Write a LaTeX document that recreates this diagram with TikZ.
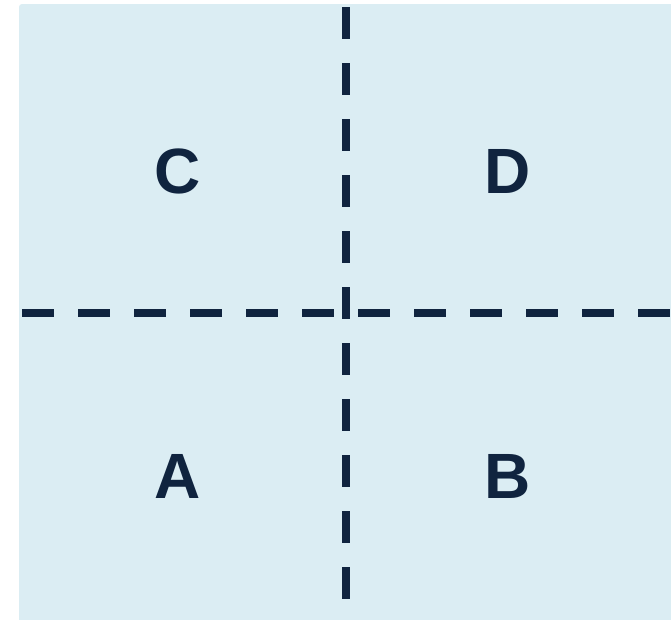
\documentclass[tikz,border=0pt]{standalone}
\usepackage{fontspec}
\setmainfont{Liberation Sans}
\usepackage{xcolor}
\usepackage{tikz}
\definecolor{paneblue}{HTML}{DBEDF3}
\definecolor{inkblue}{HTML}{10243F}

\begin{document}
\begin{tikzpicture}[x=1pt,y=-1pt,
    quadlabel/.style={font=\bfseries\fontsize{64}{64}\selectfont,text=inkblue},
    splitline/.style={draw=inkblue,line width=8pt,dash pattern=on 32pt off 24pt}]
  \clip (0,0) rectangle (671,619);
  % Background panel
  \fill[paneblue,rounded corners=3pt] (19,4) rectangle (680,630);
  % Quadrant labels
  \node[quadlabel] (C) at (178,171.5) {C};
  \node[quadlabel] (D) at (508,171.5) {D};
  \node[quadlabel] (A) at (178,476) {A};
  \node[quadlabel] (B) at (508,476) {B};
  % Dividing lines
  \coordinate (top) at (346,7);
  \coordinate (bottom) at (346,599);
  \coordinate (left) at (22,313);
  \coordinate (right) at (670,313);
  \draw[splitline] (top) -- (bottom);
  \draw[splitline] (left) -- (right);
\end{tikzpicture}
\end{document}
